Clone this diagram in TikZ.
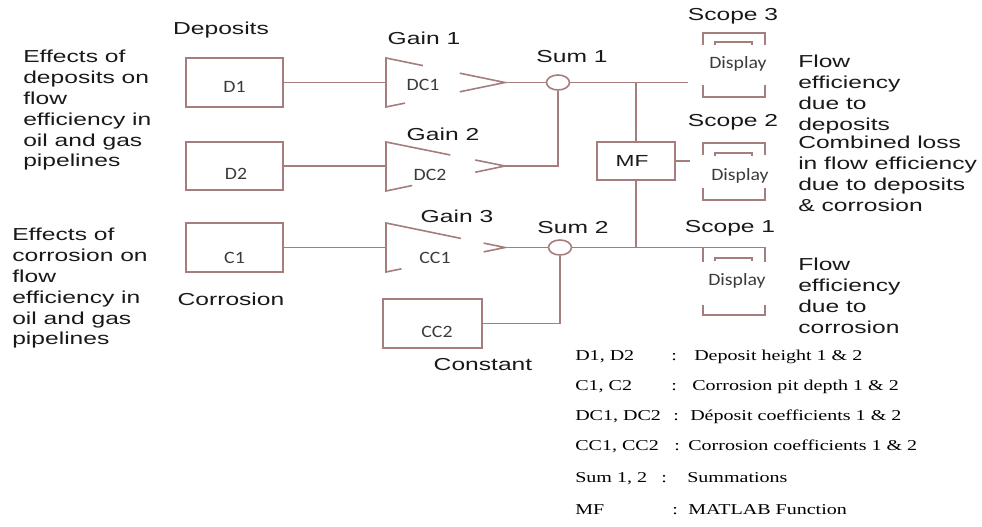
\documentclass[tikz,border=0pt]{standalone}
\usepackage{fontspec}
\setmainfont{Liberation Sans}
\newfontfamily\labfont[FakeStretch=1.42]{Liberation Sans}
\newfontfamily\boxfont[FakeStretch=1.14]{Carlito}
\newfontfamily\legfont[FakeStretch=1.33]{Liberation Serif}
\usetikzlibrary{shapes.geometric,calc}
\definecolor{ln}{RGB}{165,125,125}
\definecolor{tx}{RGB}{25,25,25}
\newcommand\gainblk[7]{%
  \coordinate (#1t) at (386,#2);
  \coordinate (#1b) at (386,#3);
  \coordinate (#1p) at (505,#4);
  \coordinate (#1i) at (386,#4);
  \draw[wire] ($(#1t)!#5!(#1p)$) -- (#1t) -- (#1b) -- ($(#1b)!#6!(#1p)$);
  \draw[wire] ($(#1t)!#7!(#1p)$) -- (#1p) -- ($(#1b)!#7!(#1p)$);
}
\newcommand\scopebr[6]{%
  \draw[wire] (703,#1+#2) -- (703,#1) -- (765,#1) -- (765,#1+#2);
  \draw[wire] (715,#3+3.5) -- (715,#3) -- (752,#3) -- (752,#3+3.5);
  \draw[wire] (703,#4-#5) -- (703,#4) -- (765,#4) -- (765,#4-#5);
}
\begin{document}
\begin{tikzpicture}[x=0.75pt,y=-0.75pt,
  wire/.style={draw=ln,line width=1.2pt},
  blk/.style={draw=ln,line width=1.2pt,rectangle,inner sep=0pt},
  sumnode/.style={draw=ln,line width=1.2pt,ellipse,minimum width=17.25pt,minimum height=11.25pt,inner sep=0pt},
  lbl/.style={font=\labfont\fontsize{13}{15.6}\selectfont,text=tx,inner sep=0pt,anchor=base},
  para/.style={font=\labfont\fontsize{13}{15.6}\selectfont,text=tx,inner sep=0pt,anchor=north west,align=left},
  btxt/.style={font=\boxfont\fontsize{13}{15}\selectfont,text=tx!85,inner sep=0pt,anchor=base},
  leg/.style={font=\legfont\fontsize{11.3}{13}\selectfont,text=black,inner sep=0pt,anchor=base west},
]
\useasboundingbox (0,0) rectangle (982,527);

% blocks
\node[blk,minimum width=72.75pt,minimum height=36.75pt] (D1) at (234.5,82.5) {};
\node[blk,minimum width=72.75pt,minimum height=36pt] (D2) at (234.5,166) {};
\node[blk,minimum width=72.75pt,minimum height=36.75pt] (C1) at (234.5,247.5) {};
\node[blk,minimum width=74.25pt,minimum height=36.75pt] (CC2) at (432.5,323.5) {};
\node[blk,minimum width=58.5pt,minimum height=28.5pt] (MF) at (636,161) {};

\node[btxt] (D1t) at (234.5,93) {D1};
\node[btxt] (D2t) at (236,180) {D2};
\node[btxt] (C1t) at (234.5,264) {C1};
\node[btxt] (CC2t) at (437,338) {CC2};
\node[lbl,font=\labfont\fontsize{12}{14}\selectfont] (MFt) at (632,167) {MF};

% gains
\gainblk{ga}{58}{107}{82.5}{0.31}{0.16}{0.62}
\gainblk{gb}{142}{191}{166}{0.54}{0.22}{0.75}
\gainblk{gc}{223}{272}{247.5}{0.63}{0.13}{0.82}
\node[btxt] (DC1t) at (423,91) {DC1};
\node[btxt] (DC2t) at (430,181) {DC2};
\node[btxt] (CC1t) at (435,264) {CC1};

% sums
\node[sumnode] (S1) at (558,82.5) {};
\node[sumnode] (S2) at (560,247.5) {};

% scopes
\scopebr{33}{12}{42}{97}{12}{}
\scopebr{143}{12}{153}{200}{12}{}
\scopebr{247.5}{14.5}{258}{315}{10}{}
\node[btxt] (sc3) at (738,69) {Display};
\node[btxt] (sc2) at (740,181) {Display};
\node[btxt] (sc1) at (737,286) {Display};

% connectors
\coordinate (s3in) at (688,82.5);
\coordinate (s2in) at (690,161);
\coordinate (sc1tl) at (703,247.5);
\coordinate (j1) at (636,82.5);
\coordinate (j2) at (636,247.5);
\draw[wire] (D1) -- (gai);
\draw[wire] (D2) -- (gbi);
\draw[wire] (C1) -- (gci);
\draw[wire] (gap) -- (S1);
\draw[wire] (gbp) -| (S1);
\draw[wire] (gcp) -- (S2);
\draw[wire] (CC2) -| (S2);
\draw[wire] (S1) -- (s3in);
\draw[wire] (j1) -- (MF);
\draw[wire] (MF) -- (j2);
\draw[wire] (MF) -- (s2in);
\draw[wire] (S2) -- (sc1tl);

% labels
\node[lbl] (deplbl) at (221,35) {Deposits};
\node[lbl] (g1l) at (424,45) {Gain 1};
\node[lbl] (g2l) at (443,141) {Gain 2};
\node[lbl] (g3l) at (457,223) {Gain 3};
\node[lbl] (s1l) at (572,63) {Sum 1};
\node[lbl] (s2l) at (573,234) {Sum 2};
\node[lbl] (sc3l) at (733,21) {Scope 3};
\node[lbl] (sc2l) at (733,127) {Scope 2};
\node[lbl] (sc1l) at (730,233) {Scope 1};
\node[lbl] (corl) at (231,306) {Corrosion};
\node[lbl] (conl) at (483,370) {Constant};

\node[para] (lt1) at (23,50) {Effects of\\deposits on\\flow\\efficiency in\\oil and gas\\pipelines};
\node[para] (lt2) at (12,228) {Effects of\\corrosion on\\flow\\efficiency in\\oil and gas\\pipelines};
\node[para] (rt1) at (798,55) {Flow\\efficiency\\due to\\deposits};
\node[para] (rt2) at (798,136) {Combined loss\\in flow efficiency\\due to deposits\\\& corrosion};
\node[para] (rt3) at (798,258) {Flow\\efficiency\\due to\\corrosion};

% legend
\node[leg] (l1a) at (575,361) {D1, D2};
\node[leg] (l1b) at (671,361) {:};
\node[leg] (l1c) at (694,361) {Deposit height 1 \& 2};
\node[leg] (l2a) at (575,390) {C1, C2};
\node[leg] (l2b) at (671,390) {:};
\node[leg] (l2c) at (692,390) {Corrosion pit depth 1 \& 2};
\node[leg] (l3a) at (575,420) {DC1, DC2};
\node[leg] (l3b) at (673,420) {:};
\node[leg] (l3c) at (690,420) {Déposit coefficients 1 \& 2};
\node[leg] (l4a) at (575,450) {CC1, CC2};
\node[leg] (l4b) at (674,450) {:};
\node[leg] (l4c) at (688,450) {Corrosion coefficients 1 \& 2};
\node[leg] (l5a) at (575,482) {Sum 1, 2};
\node[leg] (l5b) at (661,482) {:};
\node[leg] (l5c) at (687,482) {Summations};
\node[leg] (l6a) at (575,514) {MF};
\node[leg] (l6b) at (672,514) {:};
\node[leg] (l6c) at (688,514) {MATLAB Function};
\end{tikzpicture}
\end{document}
